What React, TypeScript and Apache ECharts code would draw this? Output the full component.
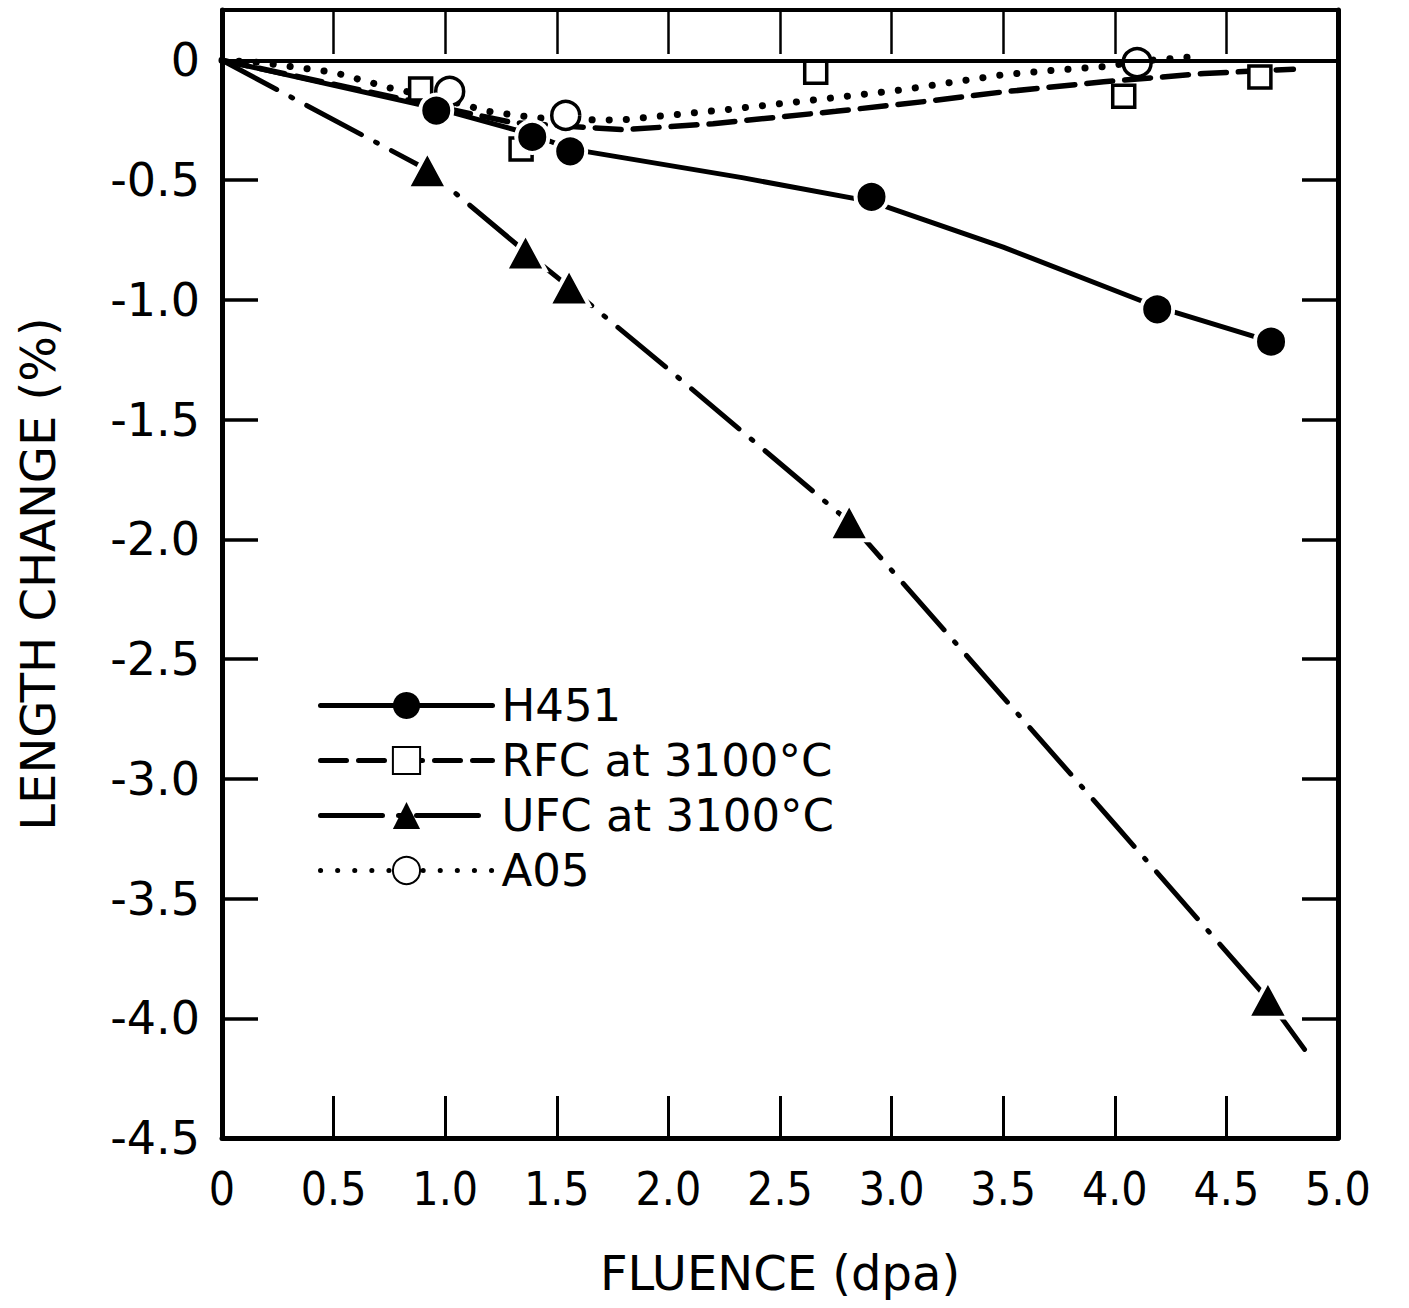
import React, { useEffect, useRef } from "react";
import * as echarts from "echarts";

// ---- axis ticks / labels ----
const xTickValues = [0, 0.5, 1.0, 1.5, 2.0, 2.5, 3.0, 3.5, 4.0, 4.5, 5.0];
const yLabelValues = [-4.5, -4.0, -3.5, -3.0, -2.5, -2.0, -1.5, -1.0, -0.5, 0];
const yTickValues = [-4.0, -3.5, -3.0, -2.5, -2.0, -1.5, -1.0, -0.5];

const seriesNames = ["H451", "RFC at 3100°C", "UFC at 3100°C", "A05"];

// ---- measured points ----
const h451X = [0.96, 1.39, 1.56, 2.91, 4.19, 4.70];
const h451Y = [-0.21, -0.32, -0.38, -0.57, -1.04, -1.175];

const rfcX = [0.89, 1.34, 2.66, 4.04, 4.65];
const rfcY = [-0.12, -0.37, -0.05, -0.15, -0.07];

const ufcX = [0.92, 1.36, 1.555, 2.81, 4.686];
const ufcY = [-0.457, -0.80, -0.946, -1.927, -3.92];

const a05X = [1.02, 1.54, 4.10];
const a05Y = [-0.13, -0.23, -0.01];

// ---- fitted curves ----
const h451FitX = [0, 0.96, 1.39, 1.56, 2.33, 2.91, 3.5, 4.19, 4.70];
const h451FitY = [0, -0.2, -0.31, -0.37, -0.49, -0.59, -0.78, -1.03, -1.175];

const rfcFitX = [0, 0.5, 1.0, 1.3, 1.8, 2.2, 2.75, 3.15, 3.5, 3.95, 4.4, 4.8];
const rfcFitY = [0, -0.1, -0.2, -0.26, -0.29, -0.265, -0.213, -0.172, -0.132, -0.09, -0.055, -0.037];

const ufcFitX = [0, 0.92, 1.36, 1.555, 2.0, 2.81, 3.5, 4.0, 4.686, 4.85];
const ufcFitY = [0, -0.457, -0.80, -0.946, -1.29, -1.927, -2.66, -3.19, -3.92, -4.13];

const a05FitX = [0, 0.18, 0.5, 0.75, 1.0, 1.19, 1.4, 1.7, 1.8, 2.26, 2.66, 3.05, 3.5, 3.75, 3.96, 4.1, 4.35];
const a05FitY = [0, -0.01, -0.05, -0.115, -0.165, -0.213, -0.24, -0.25, -0.248, -0.206, -0.165, -0.123, -0.06, -0.04, -0.026, -0.005, 0.015];

const zip = (xs: number[], ys: number[]) => xs.map((x, i) => [x, ys[i]]);

const fmt = (v: number) => (v === 0 ? "0" : v.toFixed(1));

export default function App() {
  const ref = useRef<HTMLDivElement>(null);

  useEffect(() => {
    document.body.style.margin = "0";
    if (!ref.current) return;
    const chart = echarts.init(ref.current, undefined, { renderer: "svg" });
    const black = "#000";
    const labelFont = "DejaVu Sans";
    const narrowFont = "'DejaVu Sans Condensed', 'DejaVu Sans', sans-serif";

    const fitLine = (name: string, data: number[][], symbol: string, lineType: any, width: number, cap: string, extra: any = {}) => ({
      name,
      type: "line",
      data,
      showSymbol: false,
      symbol,
      smooth: false,
      xAxisIndex: 0,
      yAxisIndex: 0,
      itemStyle: { color: black, opacity: 1 },
      lineStyle: { color: black, width, type: lineType, cap, opacity: 1 },
      emphasis: { disabled: true },
      silent: true,
      z: 2,
      ...extra,
    });

    const marks = (name: string, data: number[][], symbol: string, size: any, filled: boolean) => ({
      name,
      type: "scatter",
      data,
      symbol,
      symbolSize: size,
      xAxisIndex: 0,
      yAxisIndex: 0,
      itemStyle: filled
        ? { color: black, borderColor: "#fff", borderWidth: 4, opacity: 1 }
        : { color: "#fff", borderColor: black, borderWidth: 3.5, opacity: 1 },
      emphasis: { disabled: true },
      silent: true,
      z: 3,
    });

    chart.setOption({
      animation: false,
      backgroundColor: "#fff",
      textStyle: { fontFamily: labelFont, color: black },
      grid: { left: 222, right: 71, top: 10, bottom: 170, containLabel: false },
      legend: {
        orient: "vertical",
        left: 318,
        top: 683,
        padding: 0,
        itemWidth: 172,
        itemHeight: 34,
        itemGap: 10,
        selectedMode: false,
        data: seriesNames,
        textStyle: { fontSize: 45, color: black, fontFamily: labelFont, padding: [0, 0, 0, 4] },
        lineStyle: { width: 5 },
      },
      xAxis: [
        {
          type: "value",
          min: 0,
          max: 5,
          interval: 0.5,
          position: "bottom",
          name: "FLUENCE (dpa)",
          nameLocation: "middle",
          nameGap: 111,
          nameTextStyle: { fontSize: 48, color: black, fontFamily: labelFont },
          axisLine: { show: true, onZero: false, lineStyle: { color: black, width: 5 } },
          axisTick: { show: true, inside: true, length: 42, customValues: xTickValues, lineStyle: { color: black, width: 3 } },
          axisLabel: { show: true, margin: 28, fontSize: 46, color: black, fontFamily: narrowFont, formatter: fmt },
          splitLine: { show: false },
        },
        {
          type: "value",
          min: 0,
          max: 5,
          interval: 0.5,
          position: "top",
          axisLine: { show: true, onZero: false, lineStyle: { color: black, width: 4 } },
          axisTick: { show: true, inside: true, length: 44, lineStyle: { color: black, width: 2.5 } },
          axisLabel: { show: false },
          splitLine: { show: false },
        },
      ],
      yAxis: [
        {
          type: "value",
          min: -4.5,
          max: 0.21,
          position: "left",
          name: "LENGTH CHANGE (%)",
          nameLocation: "middle",
          nameRotate: 90,
          nameGap: 160,
          nameTextStyle: { fontSize: 48, color: black, fontFamily: labelFont },
          axisLine: { show: true, onZero: false, lineStyle: { color: black, width: 5 } },
          axisTick: { show: true, inside: true, length: 36, customValues: yTickValues, lineStyle: { color: black, width: 3.5 } },
          axisLabel: { show: true, margin: 22, fontSize: 46, color: black, fontFamily: labelFont, customValues: yLabelValues, formatter: fmt },
          splitLine: { show: false },
        },
        {
          type: "value",
          min: -4.5,
          max: 0.21,
          position: "right",
          axisLine: { show: true, onZero: false, lineStyle: { color: black, width: 5 } },
          axisTick: { show: true, inside: true, length: 36, customValues: yTickValues, lineStyle: { color: black, width: 3.5 } },
          axisLabel: { show: false },
          splitLine: { show: false },
        },
      ],
      series: [
        fitLine(seriesNames[0], zip(h451FitX, h451FitY), "circle", "solid", 5, "round", {
          markLine: {
            silent: true,
            symbol: ["none", "none"],
            label: { show: false },
            lineStyle: { color: black, width: 4, type: "solid", opacity: 1 },
            emphasis: { disabled: true },
            data: [{ yAxis: 0 }],
          },
        }),
        fitLine(seriesNames[1], zip(rfcFitX, rfcFitY), "emptyRect", [26, 12], 5.5, "round"),
        fitLine(seriesNames[2], zip(ufcFitX, ufcFitY), "triangle", [62, 16, 2, 16], 5, "round"),
        fitLine(seriesNames[3], zip(a05FitX, a05FitY), "emptyCircle", [0.1, 17], 7, "round"),
        marks(seriesNames[1], zip(rfcX, rfcY), "rect", 22, false),
        marks(seriesNames[3], zip(a05X, a05Y), "circle", 28, false),
        marks(seriesNames[0], zip(h451X, h451Y), "circle", 32, true),
        marks(seriesNames[2], zip(ufcX, ufcY), "triangle", [40, 37], true),
      ],
    });

    return () => chart.dispose();
  }, []);

  return <div ref={ref} style={{ width: 1409, height: 1308 }} />;
}
